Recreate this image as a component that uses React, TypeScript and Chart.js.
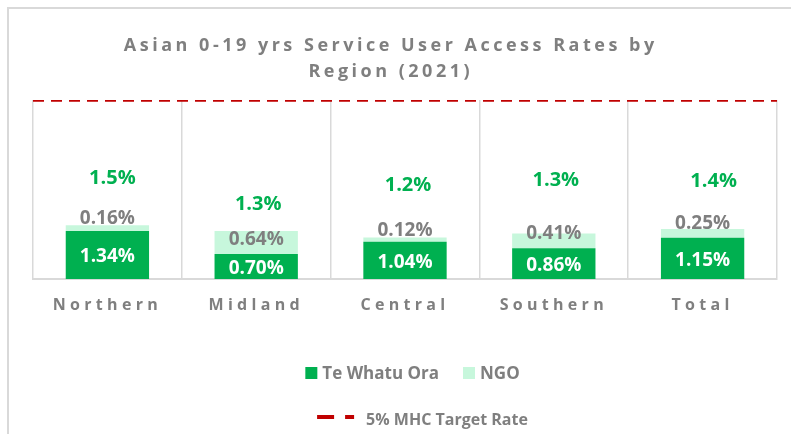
import React, { useEffect, useRef } from "react";
import { Chart, registerables } from "chart.js";

Chart.register(...registerables);

// ---------- data ----------
const categories = ["Northern", "Midland", "Central", "Southern", "Total"];
const teWhatuOra = [1.34, 0.7, 1.04, 0.86, 1.15];
const ngo = [0.16, 0.64, 0.12, 0.41, 0.25];
const targetRate = 5;
const seriesNames = ["Te Whatu Ora", "NGO", "5% MHC Target Rate"];
const titleLines = ["Asian 0-19 yrs Service User Access Rates by", "Region (2021)"];

// ---------- label nudges (px) ----------
const ngoLabelDy = [-7, 9, -7, 0, -5];
const totalLabelDx = [5, 2, 3, 2, 11];
const totalLabelDy = [-47, -27, -52, -53, -48];

// ---------- style ----------
const FONT = "'Open Sans', Lato, sans-serif";
const GREY = "#7f7f7f";
const DARK_GREEN = "#00b050";
const LIGHT_GREEN = "#c7f7dc";
const RED = "#c00000";
const GRID = "#d9d9d9";

const decorPlugin = {
  id: "decor",
  beforeDraw(chart: any) {
    chart.ctx.letterSpacing = "4.3px"; // x tick labels are letter-spaced
  },
  afterDatasetsDraw(chart: any) {
    const ctx = chart.ctx;
    const m0 = chart.getDatasetMeta(0);
    const m1 = chart.getDatasetMeta(1);
    ctx.save();
    ctx.letterSpacing = "0px";
    ctx.textAlign = "center";
    ctx.textBaseline = "middle";
    categories.forEach((_, i) => {
      const b0: any = m0.data[i];
      const b1: any = m1.data[i];
      ctx.font = `bold 19px ${FONT}`;
      ctx.fillStyle = "#ffffff";
      ctx.fillText(`${teWhatuOra[i].toFixed(2)}%`, b0.x, (b0.y + b0.base) / 2 + 2);
      ctx.fillStyle = GREY;
      ctx.fillText(`${ngo[i].toFixed(2)}%`, b1.x, b1.y + ngoLabelDy[i]);
      ctx.font = `bold 20px ${FONT}`;
      ctx.fillStyle = DARK_GREEN;
      const total = teWhatuOra[i] + ngo[i];
      ctx.fillText(`${total.toFixed(1)}%`, b1.x + totalLabelDx[i], b1.y + totalLabelDy[i]);
    });
    ctx.restore();
  },
  afterDraw(chart: any) {
    const ctx = chart.ctx;
    const area = chart.chartArea;
    ctx.save();
    // title
    const sp = 3.5;
    ctx.letterSpacing = `${sp}px`;
    ctx.font = `bold 18px ${FONT}`;
    ctx.fillStyle = GREY;
    ctx.textAlign = "center";
    ctx.textBaseline = "middle";
    const tx = chart.width / 2 - 11 + sp / 2;
    titleLines.forEach((t, k) => ctx.fillText(t, tx, 37 + k * 26));

    // legend
    ctx.letterSpacing = "0px";
    ctx.textAlign = "left";
    ctx.font = `bold 17px ${FONT}`;
    const ds = chart.data.datasets;
    const box = 12;
    const boxGap = 5;
    const itemGap = 24;
    const w0 = ctx.measureText(ds[0].label).width;
    const w1 = ctx.measureText(ds[1].label).width;
    const row1W = box + boxGap + w0 + itemGap + box + boxGap + w1;
    const cx = (area.left + area.right) / 2;
    let x = cx + 7.5 - row1W / 2;
    const y1 = 364;
    ctx.fillStyle = ds[0].backgroundColor;
    ctx.fillRect(x, y1 - box / 2, box, box);
    ctx.fillStyle = GREY;
    ctx.fillText(ds[0].label, x + box + boxGap, y1 + 1);
    x += box + boxGap + w0 + itemGap;
    ctx.fillStyle = ds[1].backgroundColor;
    ctx.fillRect(x, y1 - box / 2, box, box);
    ctx.fillStyle = GREY;
    ctx.fillText(ds[1].label, x + box + boxGap, y1 + 1);

    const y2 = 410;
    ctx.font = `bold 16px ${FONT}`;
    const w2 = ctx.measureText(ds[2].label).width;
    const sample = 37;
    const sGap = 12;
    const row2W = sample + sGap + w2;
    x = cx + 17.5 - row2W / 2;
    ctx.strokeStyle = ds[2].borderColor;
    ctx.lineWidth = 4;
    ctx.setLineDash([17, 11]);
    ctx.beginPath();
    ctx.moveTo(x, y2 - 2);
    ctx.lineTo(x + sample, y2 - 2);
    ctx.stroke();
    ctx.setLineDash([]);
    ctx.fillStyle = GREY;
    ctx.fillText(ds[2].label, x + sample + sGap, y2 + 1);
    ctx.restore();
  },
};

export default function App() {
  const ref = useRef<HTMLCanvasElement>(null);

  useEffect(() => {
    document.body.style.margin = "0";
    document.body.style.overflow = "hidden";
    const canvas = ref.current!;
    const chart = new Chart(canvas, {
      type: "bar",
      data: {
        labels: categories,
        datasets: [
          {
            label: seriesNames[0],
            data: teWhatuOra,
            backgroundColor: DARK_GREEN,
            barPercentage: 0.56,
            categoryPercentage: 1,
            grouped: false,
          },
          {
            label: seriesNames[1],
            data: ngo,
            backgroundColor: LIGHT_GREEN,
            barPercentage: 0.56,
            categoryPercentage: 1,
            grouped: false,
          },
          {
            type: "line",
            label: seriesNames[2],
            data: categories.map(() => targetRate),
            xAxisID: "x2",
            yAxisID: "y2",
            borderColor: RED,
            backgroundColor: RED,
            borderWidth: 3.5,
            borderDash: [11, 7],
            pointRadius: 0,
          } as any,
        ],
      },
      options: {
        responsive: false,
        animation: false,
        layout: { padding: { left: 24, right: 14, top: 91, bottom: 95 } },
        plugins: {
          legend: { display: false },
          title: { display: false },
          tooltip: { enabled: false },
        },
        scales: {
          x: {
            stacked: true,
            offset: true,
            grid: { offset: true, color: GRID, lineWidth: 1.5, drawTicks: false },
            border: { color: GRID, width: 2 },
            ticks: {
              color: GREY,
              font: { family: FONT, size: 16, weight: "bold" },
              padding: 17,
              maxRotation: 0,
              autoSkip: false,
            },
            afterFit: (s: any) => {
              s.height = 60;
            },
          },
          x2: {
            type: "category",
            labels: categories,
            offset: false,
            display: false,
          },
          y: { stacked: true, min: 0, max: 5, display: false },
          y2: { min: 0, max: 5, display: false },
        },
      },
      plugins: [decorPlugin],
    });
    return () => chart.destroy();
  }, []);

  return (
    <div style={{ position: "relative", width: 791, height: 434, overflow: "hidden", background: "#fff" }}>
      <div
        style={{
          position: "absolute",
          left: 7,
          top: 7,
          width: 820,
          height: 460,
          border: `2px solid ${GRID}`,
        }}
      >
        <canvas ref={ref} width={782} height={425} style={{ display: "block" }} />
      </div>
    </div>
  );
}
